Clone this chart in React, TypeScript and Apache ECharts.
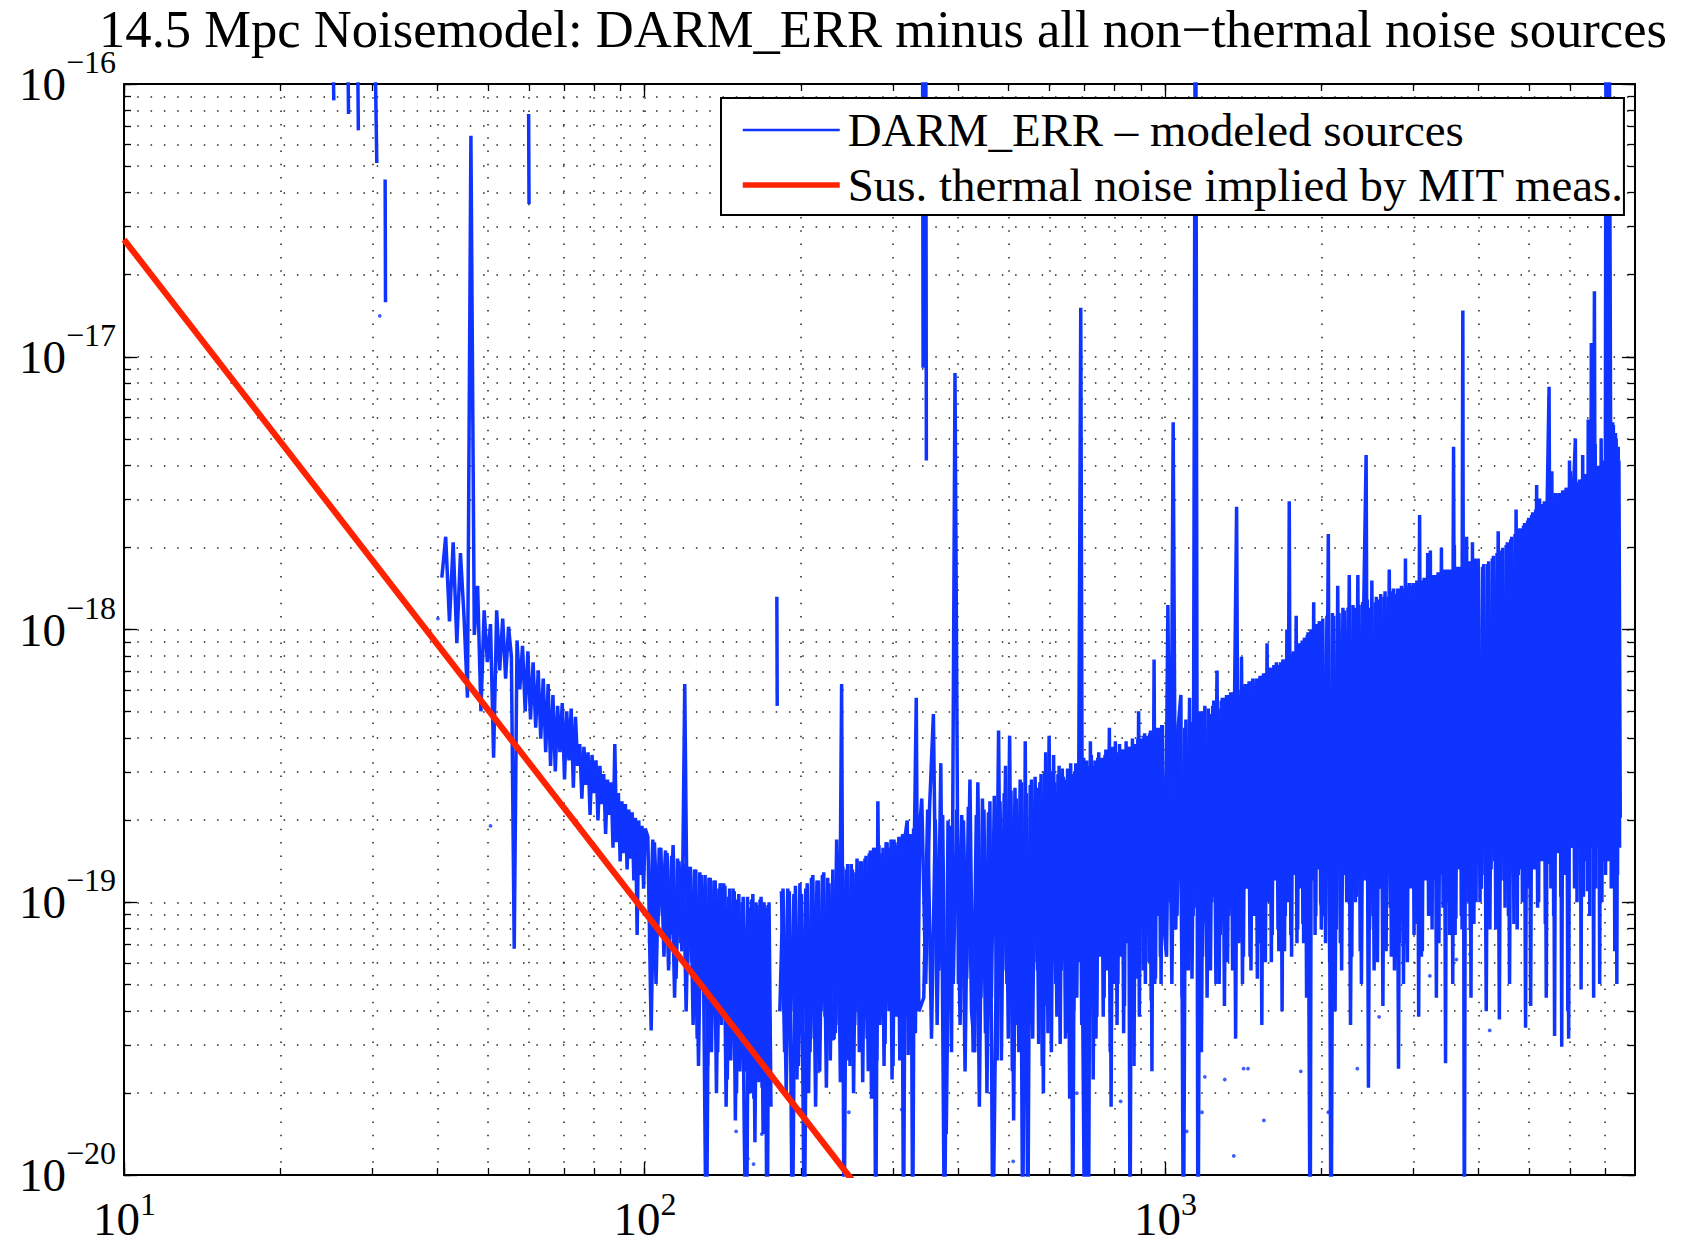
import React, { useEffect, useRef } from "react";
import * as echarts from "echarts";

// ---------- texts ----------
const TITLE = "14.5 Mpc Noisemodel: DARM_ERR minus all non\u2212thermal noise sources";
const BLUE_NAME = "DARM_ERR \u2013 modeled sources";
const RED_NAME = "Sus. thermal noise implied by MIT meas.";

// ---------- axes ----------
const X_MIN = 10;
const X_MAX = 8000;
const Y_MIN = 1e-20;
const Y_MAX = 1e-16;
const xMajorTicks = [10, 100, 1000];
const xMajorExp = ["1", "2", "3"];
const xMinorTicks = [20, 30, 40, 50, 60, 70, 80, 90, 200, 300, 400, 500, 600, 700, 800, 900, 2000, 3000, 4000, 5000, 6000, 7000];
const yMajorTicks = [1e-20, 1e-19, 1e-18, 1e-17, 1e-16];
const yMajorExp = ["\u221220", "\u221219", "\u221218", "\u221217", "\u221216"];
const yMinorTicks = [
  2e-20, 3e-20, 4e-20, 5e-20, 6e-20, 7e-20, 8e-20, 9e-20,
  2e-19, 3e-19, 4e-19, 5e-19, 6e-19, 7e-19, 8e-19, 9e-19,
  2e-18, 3e-18, 4e-18, 5e-18, 6e-18, 7e-18, 8e-18, 9e-18,
  2e-17, 3e-17, 4e-17, 5e-17, 6e-17, 7e-17, 8e-17, 9e-17,
];

// ---------- DARM_ERR - modeled sources (log10 of amplitude) ----------
// Each band segment: frequency bins start + i*step (Hz)
const segA_start = 40.8, segA_step = 0.7;
const segA_log10 = [
  -17.81, -17.66, -17.97, -17.68, -18.05, -17.72, -17.95, -18.25, -16.19, -18.02,
  -17.84, -18.30, -17.93, -18.12, -17.98, -18.47, -17.93, -18.15, -17.96, -18.18,
  -17.99, -18.10, -19.17, -18.04, -18.22, -18.06, -18.30, -18.08, -18.33, -18.12,
  -18.36, -18.15, -18.40, -18.18, -18.45, -18.20, -18.50, -18.24, -18.52, -18.28,
  -18.45, -18.27, -18.55, -18.30, -18.48, -18.29, -18.58, -18.32, -18.50, -18.42,
  -18.62, -18.43, -18.57, -18.45, -18.68, -18.46, -18.60, -18.48, -18.70, -18.50,
  -18.64, -18.53, -18.75, -18.55, -18.68, -18.56, -18.80, -18.42, -18.78, -18.60,
  -18.85, -18.63, -18.82, -18.64, -18.88, -18.66, -18.84, -18.67, -18.92, -18.69,
  -19.12, -18.70, -18.90, -18.72, -18.95, -18.73,
];
const segB_start = 101.5, segB_step = 1.5;
const segB_log10 = [
  -18.76, -19.47, -18.78, -19.10, -18.80, -19.20, -18.82, -19.12, -18.79, -19.28,
  -18.85, -19.18, -18.20, -19.25, -18.87, -19.45, -18.88, -19.60, -18.90, -19.35,
  -20.40, -18.91, -19.55, -18.92, -19.70, -18.95, -19.45, -18.93, -19.75, -18.98,
  -19.58, -18.95, -19.80, -18.99, -19.62, -19.00, -19.85, -20.40, -19.02, -19.70,
  -18.97, -19.88, -19.01, -19.66, -18.98, -19.85, -19.02, -20.40, -19.00, -19.75,
];
const segC_start = 182, segC_step = 2.6;
const segC_log10 = [
  -19.40, -18.95, -19.70, -18.96, -20.30, -18.94, -19.60, -18.97, -20.30, -18.93,
  -19.55, -18.90, -19.75, -18.92, -19.40, -18.89, -19.68, -18.93, -19.50, -19.50,
  -18.77, -19.45, -18.20, -20.30, -18.88, -19.58, -18.86, -19.70, -18.89, -19.40,
  -18.85, -19.66, -18.84, -19.50, -18.82, -19.72, -18.80, -20.30, -18.63, -19.45,
  -18.82, -19.60, -18.78, -19.35, -18.80, -19.65, -18.77, -19.42, -18.79, -19.58,
  -18.76, -20.30, -18.75, -18.70, -19.50, -18.78, -20.30, -18.74, -18.25, -19.35,
  -18.72,
];
const segD_start = 341, segD_step = 6;
const segD_log10 = [
  -18.62, -19.30, -18.65, -18.31, -19.45, -18.49, -20.30, -18.70, -19.55, -17.06,
  -19.30, -18.68, -19.62, -18.65, -19.40, -19.55, -18.56, -19.35, -18.66, -19.70,
  -18.63, -20.30, -19.40, -18.37, -19.58, -18.60, -19.30, -18.39, -19.62, -18.58,
  -19.45, -18.55, -20.30, -18.41, -20.30, -18.57, -19.50, -18.54, -19.25, -18.56,
  -19.60, -18.52, -19.38, -18.39, -19.55, -18.46, -19.30, -18.53, -19.52, -18.51,
  -19.20, -18.55, -19.48, -18.49, -20.30, -18.52, -19.35, -18.50, -16.82, -19.40,
  -20.30, -18.48, -20.30, -18.41, -19.28, -18.50, -19.50, -18.47, -19.15, -18.49,
  -19.42, -18.46, -19.25, -18.48, -19.55, -18.45, -19.30, -18.41, -19.45, -18.47,
  -19.20, -18.44, -19.48, -18.46, -19.10, -18.43, -20.30, -18.45, -19.35, -18.42,
  -19.15, -18.40, -19.42, -18.41, -19.05, -18.39, -19.30, -18.40, -19.12, -18.38,
  -19.36, -19.20, -18.11, -19.28, -18.37, -19.05, -18.36, -19.30, -18.35, -19.10,
];
const segE_start = 1001, segE_step = 12;
const segE_log10 = [
  -19.05, -17.91, -19.00, -17.24, -19.10, -18.35, -18.24, -20.40, -18.33, -19.25,
  -18.34, -19.05, -15.00, -20.50, -18.30, -19.20, -18.28, -19.35, -18.31, -19.00,
  -18.26, -19.30, -18.29, -19.12, -18.25, -19.38, -18.24, -19.05, -18.23, -19.25,
  -18.22, -17.55, -19.15, -18.24, -19.30, -18.21, -18.95, -18.20, -19.20, -18.19,
  -19.05, -18.22, -19.28, -18.18, -18.98, -18.17, -19.15, -18.16, -19.00, -18.14,
  -19.22, -18.15, -18.92, -18.12, -19.10, -18.14, -18.95, -18.11, -19.18, -18.12,
  -19.00, -17.53, -19.12, -18.10, -18.90, -18.09, -19.15, -18.06, -18.95, -18.05,
  -19.08, -18.03, -18.88, -18.02, -19.20, -20.40, -18.00, -18.92, -17.99, -19.05,
  -17.98, -18.85, -17.97, -19.10,
];
const segF_start = 2010, segF_step = 25;
const segF_log10 = [
  -17.96, -19.15, -17.65, -20.40, -17.95, -19.10, -17.94, -19.25, -17.93, -19.00,
  -17.80, -19.20, -17.92, -18.98, -17.91, -19.30, -17.90, -17.36, -19.68, -17.92,
  -19.05, -17.90, -19.22, -17.89, -18.95, -17.88, -19.18, -17.88, -19.02, -17.86,
  -19.25, -17.87, -19.61, -17.85, -19.00, -17.85, -19.15, -17.84, -18.90, -17.84,
  -19.12, -17.83, -18.95, -17.58, -19.20, -17.82, -18.88, -17.82, -19.05, -17.71,
  -19.10, -17.81, -18.92, -17.80, -19.15, -17.80, -18.85, -17.80, -19.59, -17.79,
  -19.00, -17.79, -18.90, -17.33, -19.12, -17.79, -18.88, -17.78, -19.05, -16.83,
  -20.40, -17.78, -18.95, -17.78, -19.10, -17.77, -18.82, -17.76, -19.00, -17.75,
];
const segG_start = 4030, segG_step = 45;
const segG_log10 = [
  -19.00, -17.77, -18.90, -17.76, -19.10, -17.74, -18.85, -17.72, -19.43, -17.71,
  -18.92, -17.69, -19.05, -17.67, -18.80, -17.65, -19.10, -17.63, -18.88, -17.62,
  -19.46, -17.60, -18.95, -17.58, -18.78, -17.56, -19.02, -17.52, -18.85, -17.54,
  -19.08, -17.53, -17.11, -18.95, -17.52, -19.49, -17.51, -18.82, -17.50, -19.53,
  -17.49, -18.90, -17.48, -19.50, -17.42, -18.80, -17.47, -17.30, -19.00, -17.46,
  -18.75, -17.45, -18.98, -17.44, -18.85, -17.23, -19.05, -16.95, -18.80, -16.76,
  -18.95, -17.41, -18.78, -17.40, -19.00, -17.39, -18.85, -15.00, -18.00, -15.50,
  -17.21, -18.80, -17.25, -19.18, -17.30, -18.90, -17.38, -18.69,
];
// in-between frequency bins of the dense part (drawn as a second pass of the same trace)
const segB2_start = 102.25, segB2_step = 1.5;
const segB2_log10 = [
  -19.15, -18.77, -19.30, -18.80, -19.05, -18.81, -19.25, -18.83, -19.35, -18.84,
  -19.15, -18.86, -19.40, -18.87, -19.22, -18.88, -19.50, -18.89, -19.30, -18.90,
  -19.60, -18.91, -19.40, -18.92, -19.55, -18.93, -19.35, -18.94, -19.65, -18.95,
  -19.45, -18.96, -19.70, -18.97, -19.50, -18.98, -19.62, -18.98, -19.40, -18.99,
  -19.72, -19.00, -19.55, -18.99, -19.68, -19.00, -19.45, -19.01, -19.60,
];
const segC2_start = 183.3, segC2_step = 2.6;
const segC2_log10 = [
  -18.96, -19.55, -18.95, -19.40, -18.97, -19.65, -18.93, -19.45, -18.95, -19.70,
  -18.91, -19.50, -18.92, -19.62, -18.90, -19.42, -18.91, -19.58, -18.88, -19.48,
  -18.90, -19.66, -18.87, -19.40, -18.86, -19.60, -18.88, -19.45, -18.84, -19.55,
  -18.85, -19.38, -18.83, -19.62, -18.81, -19.44, -18.80, -19.58, -18.79, -19.36,
  -18.80, -19.52, -18.78, -19.40, -18.77, -19.60, -18.78, -19.35, -18.76, -19.50,
  -18.75, -19.42, -18.74, -19.56, -18.75, -19.30, -18.73, -19.48, -18.72, -19.40,
];
const segD2_start = 344, segD2_step = 6;
const segD2_log10 = [
  -19.35, -18.66, -19.50, -18.70, -19.25, -18.68, -19.85, -18.72, -19.30, -18.66,
  -19.45, -18.70, -19.28, -18.55, -19.55, -18.68, -19.75, -18.62, -19.48, -18.67,
  -19.35, -18.61, -19.58, -18.63, -19.25, -18.50, -19.50, -18.59, -19.80, -18.62,
  -19.55, -18.56, -19.28, -18.60, -19.45, -18.55, -19.22, -18.58, -19.52, -18.53,
  -19.70, -18.45, -19.48, -18.52, -19.20, -18.56, -19.42, -18.50, -19.25, -18.54,
  -19.50, -18.51, -19.72, -18.53, -19.40, -18.49, -19.22, -18.42, -19.45, -18.47,
  -19.15, -18.50, -19.38, -18.46, -19.65, -18.48, -19.42, -18.45, -19.20, -18.47,
  -19.35, -18.44, -19.12, -18.36, -19.75, -18.43, -19.18, -18.45, -19.30, -18.42,
  -19.08, -18.44, -19.38, -18.41, -19.15, -18.43, -19.32, -18.40, -19.60, -18.42,
  -19.28, -18.30, -19.10, -18.40, -19.25, -18.38, -19.02, -18.39, -19.22, -18.37,
  -19.62, -18.38, -19.30, -18.36, -19.00, -18.37, -19.20, -18.35, -19.05,
];
const segE2_start = 1007, segE2_step = 12;
const segE2_log10 = [
  -19.20, -18.36, -19.30, -18.38, -19.05, -18.34, -19.35, -18.36, -19.10, -18.25,
  -19.28, -18.32, -19.02, -18.31, -19.55, -18.30, -19.08, -18.29, -19.25, -18.28,
  -18.98, -18.15, -19.30, -18.26, -19.05, -18.25, -19.22, -18.24, -18.95, -18.23,
  -19.50, -18.22, -19.00, -18.10, -19.20, -18.20, -18.92, -18.19, -19.25, -18.18,
  -18.98, -18.18, -19.15, -18.17, -19.45, -18.16, -19.22, -18.05, -18.95, -18.14,
  -19.12, -18.13, -18.88, -18.13, -19.18, -18.12, -19.40, -18.11, -19.05, -18.00,
  -18.86, -18.09, -19.20, -18.08, -18.90, -17.95, -19.10, -18.05, -18.85, -18.04,
  -19.15, -18.03, -19.35, -18.01, -19.05, -18.00, -18.82, -17.90, -19.12, -17.98,
  -18.88, -17.97, -19.00,
];
const segF2_start = 2022.5, segF2_step = 25;
const segF2_log10 = [
  -19.05, -17.95, -19.22, -17.94, -19.40, -17.84, -19.15, -17.92, -18.90, -17.92,
  -19.45, -17.91, -19.00, -17.80, -19.18, -17.90, -18.92, -17.89, -19.10, -17.82,
  -19.25, -17.88, -18.95, -17.87, -19.38, -17.86, -18.88, -17.78, -19.20, -17.85,
  -18.98, -17.85, -19.15, -17.84, -19.30, -17.74, -19.22, -17.83, -18.95, -17.83,
  -19.08, -17.82, -19.42, -17.82, -19.18, -17.81, -18.92, -17.72, -19.05, -17.80,
  -18.86, -17.80, -19.35, -17.79, -18.90, -17.70, -19.02, -17.78, -18.84, -17.78,
  -19.12, -17.78, -19.30, -17.69, -19.06, -17.77, -18.82, -17.77, -19.10, -17.76,
  -18.88, -17.66, -19.00, -17.75, -19.35, -17.68, -19.08, -17.74, -18.86, -17.74,
];
const segG2_start = 4052.5, segG2_step = 45;
const segG2_log10 = [
  -18.95, -17.76, -19.40, -17.75, -18.88, -17.73, -19.10, -17.64, -18.92, -17.70,
  -19.02, -17.68, -19.30, -17.66, -19.08, -17.56, -18.90, -17.63, -19.00, -17.61,
  -18.82, -17.59, -19.38, -17.57, -18.88, -17.47, -19.00, -17.54, -18.80, -17.53,
  -19.35, -17.52, -18.86, -17.42, -19.05, -17.50, -18.78, -17.50, -18.98, -17.49,
  -18.84, -17.48, -19.40, -17.38, -18.80, -17.46, -18.95, -17.46, -18.78, -17.45,
  -19.32, -17.36, -18.82, -17.43, -18.96, -17.42, -18.76, -17.41, -19.35, -17.32,
  -18.80, -17.40, -19.30, -17.30, -18.78, -17.38, -18.90, -17.30, -18.85, -17.22,
  -18.95, -17.24, -18.82, -17.28, -19.30, -17.33, -18.80,
];
// isolated fragments between gaps: [frequency Hz, log10 amplitude]
const fragments = [
  [[25.0, -15.5], [25.3, -16.06]],
  [[26.8, -15.5], [27.0, -16.11]],
  [[28.0, -15.5], [28.2, -16.17]],
  [[30.15, -15.5], [30.6, -16.29]],
  [[31.75, -16.35], [31.8, -16.8]],
  [[59.9, -16.11], [60.0, -16.44]],
  [[179.6, -17.88], [179.9, -18.28]],
  [[342, -15.5], [343, -17.04], [344, -15.5], [345.5, -17.0], [347, -15.5], [348, -17.38]],
];
// isolated single points: [frequency Hz, log10 amplitude]
const isolatedDots = [
  [31.0, -16.85], [40.1, -17.96], [50.6, -18.72], [150, -19.84], [158, -19.94], [162, -19.96],
  [168, -19.85], [203, -19.64], [216, -19.62], [247, -19.77], [312, -19.76], [511, -19.95],
  [677, -19.7], [822, -19.73], [1101, -19.84], [1178, -19.77], [1193, -19.64], [1303, -19.65],
  [1356, -19.93], [1416, -19.61], [1444, -19.61], [1549, -19.8], [1824, -19.62], [2060, -19.77],
  [2342, -19.61], [2579, -19.42], [3228, -19.27], [3630, -19.21], [3855, -19.19], [4207, -19.47],
];

// ---------- Sus. thermal noise (power law, straight on log-log) ----------
const redFreq = [10, 300];
const redValues = [2.69e-17, 6.15e-21];

// ---------- styles ----------
const FONT = "'Liberation Serif', 'Times New Roman', serif";
const BLUE = "#1034ff";
const RED = "#ff2200";
const BLUE_WIDTH = 3.5;
const RED_WIDTH = 6.2;

function binSegment(start: number, step: number, logs: number[]) {
  return logs.map((lv, i) => [start + i * step, Math.pow(10, lv)]);
}

function buildBlue() {
  const d: any[] = [];
  d.push(...binSegment(segA_start, segA_step, segA_log10));
  d.push(...binSegment(segB_start, segB_step, segB_log10));
  d.push([177, null]);
  d.push(...binSegment(segC_start, segC_step, segC_log10));
  d.push(...binSegment(segD_start, segD_step, segD_log10));
  d.push(...binSegment(segE_start, segE_step, segE_log10));
  d.push(...binSegment(segF_start, segF_step, segF_log10));
  d.push(...binSegment(segG_start, segG_step, segG_log10));
  fragments.forEach((fr) => {
    d.push([fr[0][0], null]);
    fr.forEach(([f, lv]) => d.push([f, Math.pow(10, lv)]));
  });
  return d;
}

function buildBlueFill() {
  const d: any[] = [];
  d.push(...binSegment(segB2_start, segB2_step, segB2_log10));
  d.push([177, null]);
  d.push(...binSegment(segC2_start, segC2_step, segC2_log10));
  d.push(...binSegment(segD2_start, segD2_step, segD2_log10));
  d.push(...binSegment(segE2_start, segE2_step, segE2_log10));
  d.push(...binSegment(segF2_start, segF2_step, segF2_log10));
  d.push(...binSegment(segG2_start, segG2_step, segG2_log10));
  return d;
}

function idxOf(arr: number[], v: number) {
  let best = 0;
  let bd = Infinity;
  arr.forEach((a, i) => {
    const dd = Math.abs(Math.log10(a) - Math.log10(v));
    if (dd < bd) { bd = dd; best = i; }
  });
  return best;
}

// y labels: "10" centred on the tick, exponent raised at the top of a tall line
const richY = {
  b: { fontFamily: FONT, fontSize: 47, lineHeight: 76, color: "#000" },
  s: { fontFamily: FONT, fontSize: 32, lineHeight: 32, verticalAlign: "top", color: "#000" },
};
// x labels: "10" at the bottom of the line, exponent at the top
const richX = {
  h: { fontSize: 8, lineHeight: 54, width: 1 },
  b: { fontFamily: FONT, fontSize: 47, lineHeight: 40, verticalAlign: "bottom", color: "#000" },
  s: { fontFamily: FONT, fontSize: 32, lineHeight: 32, verticalAlign: "top", color: "#000" },
};

const dotted = { color: "#222", width: 1.5, type: [1.5, 11.8] };

function xAxisDef(pos: string, major: boolean, withGrid: boolean, withLabels: boolean) {
  return {
    type: "log",
    logBase: 10,
    min: X_MIN,
    max: X_MAX,
    position: pos,
    gridIndex: 0,
    axisLine: { show: !major, onZero: false, lineStyle: { color: "#000", width: 2 } },
    axisTick: {
      show: true,
      inside: true,
      length: major ? 13 : 7,
      customValues: major ? xMajorTicks : [...xMajorTicks, ...xMinorTicks],
      lineStyle: { color: "#000", width: 1.3 },
    },
    minorTick: { show: false },
    minorSplitLine: { show: false },
    splitLine: { show: withGrid, lineStyle: dotted },
    axisLabel: withLabels
      ? {
          show: true,
          customValues: xMajorTicks,
          margin: 13,
          formatter: (v: number) => `{h| }{b|10}{s|${xMajorExp[idxOf(xMajorTicks, v)]}}`,
          rich: richX,
          showMinLabel: true,
          showMaxLabel: true,
        }
      : { show: false },
  };
}

function yAxisDef(pos: string, major: boolean, withGrid: boolean, withLabels: boolean) {
  return {
    type: "log",
    logBase: 10,
    min: Y_MIN,
    max: Y_MAX,
    position: pos,
    gridIndex: 0,
    axisLine: { show: !major, onZero: false, lineStyle: { color: "#000", width: 2 } },
    axisTick: {
      show: true,
      inside: true,
      length: major ? 13 : 7,
      customValues: major ? yMajorTicks : [...yMajorTicks, ...yMinorTicks],
      lineStyle: { color: "#000", width: 1.3 },
    },
    minorTick: { show: false },
    minorSplitLine: { show: false },
    splitLine: { show: withGrid, lineStyle: dotted },
    axisLabel: withLabels
      ? {
          show: true,
          customValues: yMajorTicks,
          margin: 8,
          formatter: (v: number) => `{b|10}{s|${yMajorExp[idxOf(yMajorTicks, v)]}}`,
          rich: richY,
          showMinLabel: true,
          showMaxLabel: true,
        }
      : { show: false },
  };
}

export default function App() {
  const ref = useRef<HTMLDivElement>(null);
  useEffect(() => {
    if (!ref.current) return;
    const chart = echarts.init(ref.current, null, { renderer: "svg" });
    const blueData = buildBlue();
    const blueFill = buildBlueFill();
    const dotData = isolatedDots.map(([f, lv]) => [f, Math.pow(10, lv)]);
    const redData = redFreq.map((f, i) => [f, redValues[i]]);
    const blueLine = {
      name: BLUE_NAME,
      type: "line",
      xAxisIndex: 0,
      yAxisIndex: 0,
      symbol: "none",
      showSymbol: false,
      connectNulls: false,
      clip: true,
      silent: true,
      lineStyle: { color: BLUE, width: BLUE_WIDTH, join: "bevel" },
      itemStyle: { color: BLUE },
    };
    const option: any = {
      animation: false,
      backgroundColor: "#fff",
      title: {
        text: TITLE,
        left: 883,
        top: 2,
        padding: 0,
        textAlign: "center",
        textVerticalAlign: "top",
        textStyle: { fontFamily: FONT, fontSize: 52.6, fontWeight: "normal", color: "#000", lineHeight: 54 },
      },
      grid: { left: 124, top: 84, width: 1511, height: 1091, containLabel: false, outerBoundsMode: "none" },
      xAxis: [
        xAxisDef("bottom", false, true, false),
        xAxisDef("bottom", true, false, true),
        xAxisDef("top", false, false, false),
        xAxisDef("top", true, false, false),
      ],
      yAxis: [
        yAxisDef("left", false, true, false),
        yAxisDef("left", true, false, true),
        yAxisDef("right", false, false, false),
        yAxisDef("right", true, false, false),
      ],
      legend: {
        show: true,
        data: [
          { name: BLUE_NAME, lineStyle: { color: BLUE, width: 2.6 } },
          { name: RED_NAME, lineStyle: { color: RED, width: 5.5 } },
        ],
        orient: "vertical",
        left: 721,
        top: 98,
        padding: [7, 0, 5, 19],
        itemWidth: 97,
        itemHeight: 14,
        itemGap: 5,
        selectedMode: false,
        backgroundColor: "#fff",
        borderColor: "#000",
        borderWidth: 2,
        borderRadius: 0,
        itemStyle: { opacity: 0 },
        textStyle: { fontFamily: FONT, fontSize: 46.9, lineHeight: 50, color: "#000", padding: [0, 0, 0, 3] },
      },
      series: [
        { ...blueLine, data: blueData },
        { ...blueLine, data: blueFill },
        {
          name: BLUE_NAME,
          type: "scatter",
          xAxisIndex: 0,
          yAxisIndex: 0,
          data: dotData,
          symbol: "circle",
          symbolSize: 3.8,
          silent: true,
          clip: true,
          itemStyle: { color: BLUE },
        },
        {
          name: RED_NAME,
          type: "line",
          xAxisIndex: 0,
          yAxisIndex: 0,
          data: redData,
          symbol: "none",
          showSymbol: false,
          clip: true,
          silent: true,
          lineStyle: { color: RED, width: RED_WIDTH },
          itemStyle: { color: RED },
        },
      ],
    };
    chart.setOption(option);
    return () => chart.dispose();
  }, []);
  return (
    <div
      ref={ref}
      style={{ position: "fixed", left: 0, top: 0, width: 1697, height: 1243, background: "#fff" }}
    />
  );
}
